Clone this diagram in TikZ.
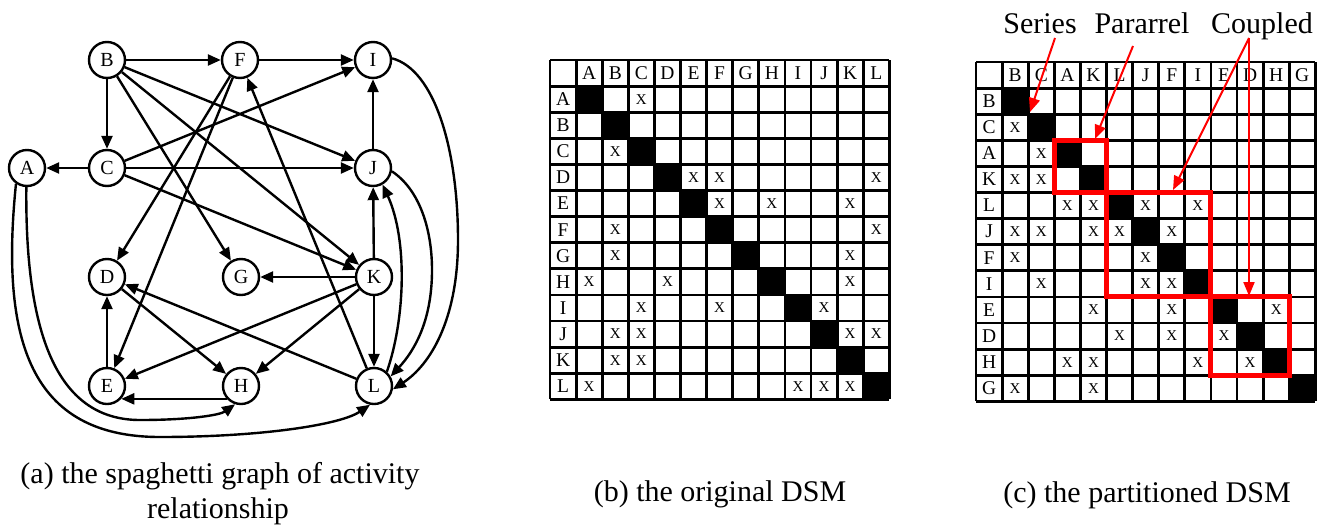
\documentclass[tikz,border=0pt]{standalone}
\usepackage{fontspec}
\setmainfont{Liberation Serif}
\usetikzlibrary{arrows.meta}
\begin{document}
\begin{tikzpicture}[x=1pt,y=-1pt,
  vtx/.style={circle,draw,line width=2.4pt,minimum size=36pt,inner sep=0pt,font=\fontsize{20}{20}\selectfont},
  edge/.style={line width=2.4pt,-{Triangle[length=13pt,width=11pt]}},
  gridline/.style={line width=2.8pt},
  hdr/.style={inner sep=0pt,font=\fontsize{19.5}{19.5}\selectfont},
  xmark/.style={inner sep=0pt,font=\fontsize{15}{15}\selectfont},
  captext/.style={inner sep=0pt,anchor=base,font=\fontsize{30}{30}\selectfont},
  redbox/.style={draw=red,line width=5pt},
  redarrow/.style={draw=red,line width=2pt,-{Triangle[length=14pt,width=11pt]},red}
]
\useasboundingbox (0,0) rectangle (1325,528);

% ---------------- (a) graph ----------------
\node[vtx] (A) at (27,168) {A};
\node[vtx] (B) at (107,60) {B};
\node[vtx] (C) at (107,168) {C};
\node[vtx] (D) at (107,277) {D};
\node[vtx] (E) at (107,386) {E};
\node[vtx] (F) at (240,60) {F};
\node[vtx] (G) at (241,277) {G};
\node[vtx] (H) at (241,386) {H};
\node[vtx] (I) at (373,60) {I};
\node[vtx] (J) at (373,168) {J};
\node[vtx] (K) at (374,277) {K};
\node[vtx] (L) at (374,386) {L};

\draw[edge] (B) -- (F);
\draw[edge] (B) -- (C);
\draw[edge] (C) -- (A);
\draw[edge] (F) -- (I);
\draw[edge] (J) -- (I);
\draw[edge] (C) -- (J);
\draw[edge] (C) -- (I);
\draw[edge] (B) -- (J);
\draw[edge] (B) -- (K);
\draw[edge] (B) -- (G);
\draw[edge] (C) -- (K);
\draw[edge] (F) -- (D);
\draw[edge] (F) -- (E);
\draw[edge] (L) -- (F);
\draw[edge] (K) -- (G);
\draw[edge] (K) -- (J);
\draw[edge] (K) -- (L);
\draw[edge] (K) -- (H);
\draw[edge] (K) -- (E);
\draw[edge] (L) -- (D);
\draw[edge] (D) -- (H);
\draw[edge] (E) -- (D);
\draw[edge] (H.222) -- (E.318);
% curved
\draw[edge] (A.268) .. controls (25,330) and (55,420) .. (140,420)
   .. controls (190,420) and (220,415) .. (H.252);
\draw[edge] (A.235) .. controls (0,340) and (30,437) .. (160,437)
   .. controls (260,437) and (340,425) .. (L.258);
\draw[edge] (I.5) .. controls (435,70) and (458,150) .. (458,240)
   .. controls (458,320) and (430,365) .. (L.-10);
\draw[edge] (J.-10) .. controls (420,190) and (432,230) .. (432,270)
   .. controls (432,320) and (415,350) .. (L.30);
\draw[edge] (L.48) .. controls (405,320) and (408,240) .. (J.-60);

\node[captext] (capa1) at (220,483) {(a) the spaghetti graph of activity};
\node[captext] (capa2) at (218,518) {relationship};

% ---------------- (b) original DSM ----------------
\def\s{26.1}
\foreach \k in {1,...,12} \fill (550+\k*\s,60+\k*\s) rectangle ++(\s,\s);
\foreach \i in {0,...,13} {
  \draw[gridline] (550,60+\i*\s) -- (550+13*\s,60+\i*\s);
  \draw[gridline] (550+\i*\s,60) -- (550+\i*\s,60+13*\s);
}
\foreach \l [count=\k] in {A,B,C,D,E,F,G,H,I,J,K,L} {
  \node[hdr] (bc\k) at (550+\k*\s+0.5*\s,60+0.5*\s) {\l};
  \node[hdr] (br\k) at (550+0.5*\s,60+\k*\s+0.5*\s) {\l};
}
\foreach \r/\c in {1/3, 3/2, 4/5,4/6,4/12, 5/6,5/8,5/11, 6/2,6/12, 7/2,7/11,
   8/1,8/4,8/11, 9/3,9/6,9/10, 10/2,10/3,10/11,10/12, 11/2,11/3, 12/1,12/9,12/10,12/11}
  \node[xmark] (xb-\r-\c) at (550+\c*\s+0.5*\s,60+\r*\s+0.5*\s) {X};
\node[captext] (capb) at (720,501) {(b) the original DSM};

% ---------------- (c) partitioned DSM ----------------
\foreach \k in {1,...,12} \fill (976+\k*\s,62+\k*\s) rectangle ++(\s,\s);
\foreach \i in {0,...,13} {
  \draw[gridline] (976,62+\i*\s) -- (976+13*\s,62+\i*\s);
  \draw[gridline] (976+\i*\s,62) -- (976+\i*\s,62+13*\s);
}
\foreach \l [count=\k] in {B,C,A,K,L,J,F,I,E,D,H,G} {
  \node[hdr] (cc\k) at (976+\k*\s+0.5*\s,62+0.5*\s) {\l};
  \node[hdr] (cr\k) at (976+0.5*\s,62+\k*\s+0.5*\s) {\l};
}
\foreach \r/\c in {2/1, 3/2, 4/1,4/2, 5/3,5/4,5/6,5/8, 6/1,6/2,6/4,6/5,6/7,
   7/1,7/6, 8/2,8/6,8/7, 9/4,9/7,9/11, 10/5,10/7,10/9, 11/3,11/4,11/8,11/10, 12/1,12/4}
  \node[xmark] (xc-\r-\c) at (976+\c*\s+0.5*\s,62+\r*\s+0.5*\s) {X};

\draw[redbox] (976+3*\s,62+3*\s) rectangle (976+5*\s,62+5*\s);
\draw[redbox] (976+5*\s,62+5*\s) rectangle (976+9*\s,62+9*\s);
\draw[redbox] (976+9*\s,62+9*\s) rectangle (976+12*\s,62+12*\s);

\node[captext] (series) at (1040,33) {Series};
\node[captext] (pararrel) at (1142,33) {Pararrel};
\node[captext] (coupled) at (1262,33) {Coupled};
\coordinate (se0) at (1055,38);
\coordinate (se1) at (1030,112);
\coordinate (pa0) at (1133,46);
\coordinate (pa1) at (1095,139);
\coordinate (co0) at (1249,38);
\coordinate (co1) at (1173,190);
\coordinate (co2) at (1249,296);
\draw[redarrow] (se0) -- (se1);
\draw[redarrow] (pa0) -- (pa1);
\draw[redarrow] (co0) -- (co1);
\draw[redarrow] (co0) -- (co2);

\node[captext] (capc) at (1147,502) {(c) the partitioned DSM};
\end{tikzpicture}
\end{document}
